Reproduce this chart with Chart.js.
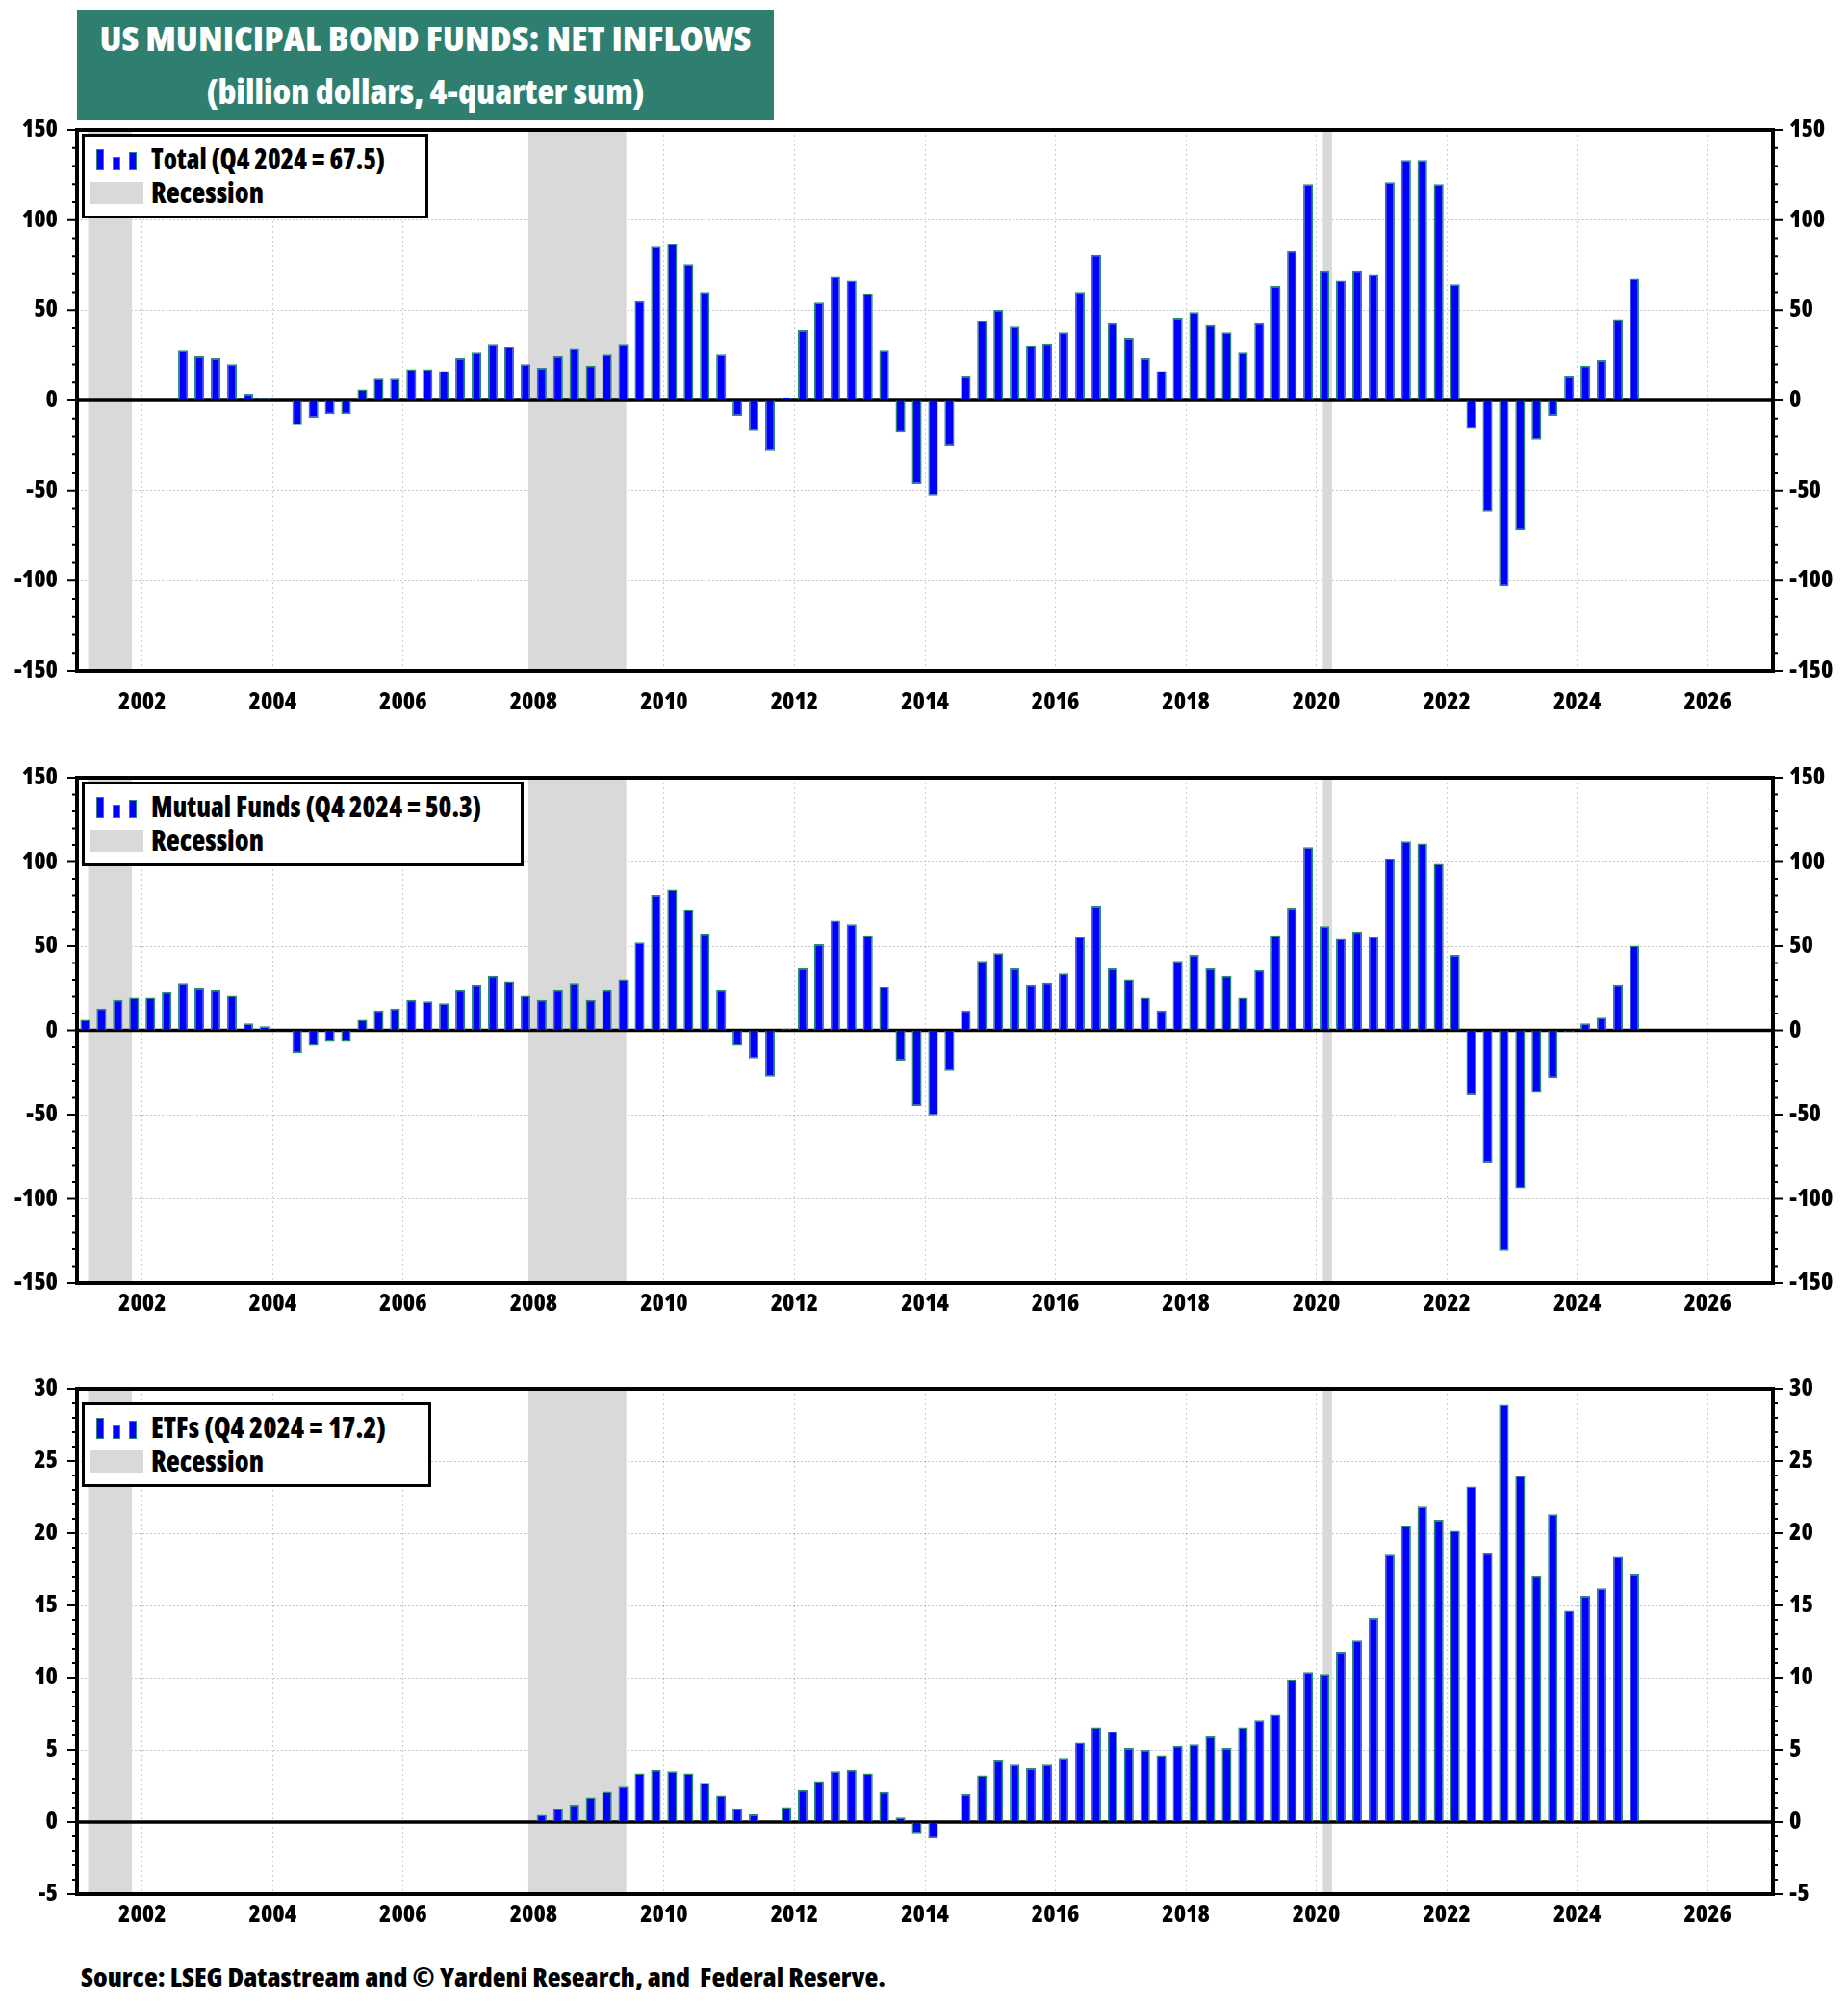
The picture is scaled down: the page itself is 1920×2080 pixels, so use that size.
<!DOCTYPE html>
<html>
<head>
<meta charset="utf-8">
<script src="https://cdn.jsdelivr.net/npm/chart.js@4.4.1/dist/chart.umd.min.js"></script>
<style>
  body { margin: 0; background: #fff; width: 1920px; height: 2080px; position: relative; overflow: hidden;
         font-weight: 800; color: #000; }
  .title { position: absolute; left: 80px; top: 10px; width: 724px; height: 115px; background: #2F7F70; color: #fff;
           text-align: center; font-size: 35px; padding-top: 2px; box-sizing: border-box; }
  .title div { height: 55px; line-height: 55px; white-space: nowrap; }
  .fit { display: inline-block; white-space: pre; transform-origin: left center; }
  .title .fit { transform-origin: center center; }
  canvas { position: absolute; left: 0; }
  .legend { position: absolute; left: 85px; box-sizing: border-box; height: 88px; border: 3px solid #000; background: #fff;
            font-size: 30px; z-index: 2; }
  .legend .fit { position: absolute; left: 69px; line-height: 34px; }
  .legend .t1 { top: 6px; }
  .legend .t2 { top: 41px; }
  .bar { position: absolute; width: 8px; background: #0000FF; border: 1.5px solid #2A8A74; box-sizing: border-box; }
  .swatch { position: absolute; left: 6px; top: 47px; width: 55px; height: 23px; background: #D9D9D9; }
  .source { position: absolute; left: 84px; top: 2038px; font-size: 27px; line-height: 32px; }
</style>
</head>
<body>
<div class="title">
  <div><span class="fit" data-w="677">US MUNICIPAL BOND FUNDS: NET INFLOWS</span></div>
  <div><span class="fit" data-w="455">(billion dollars, 4-quarter sum)</span></div>
</div>

<canvas id="total" width="1920" height="667" style="top:90px"></canvas>
<canvas id="mutual" width="1920" height="630" style="top:763px"></canvas>
<canvas id="etf" width="1920" height="630" style="top:1398px"></canvas>

<div class="legend" style="top:139px;width:360px">
  <div class="bar" style="left:12px;top:13px;height:22px"></div>
  <div class="bar" style="left:29px;top:21px;height:14px"></div>
  <div class="bar" style="left:46px;top:16px;height:19px"></div>
  <span class="fit t1" data-w="243">Total (Q4 2024 = 67.5)</span>
  <div class="swatch"></div>
  <span class="fit t2" data-w="117">Recession</span>
</div>
<div class="legend" style="top:812px;width:459px">
  <div class="bar" style="left:12px;top:13px;height:22px"></div>
  <div class="bar" style="left:29px;top:21px;height:14px"></div>
  <div class="bar" style="left:46px;top:16px;height:19px"></div>
  <span class="fit t1" data-w="343">Mutual Funds (Q4 2024 = 50.3)</span>
  <div class="swatch"></div>
  <span class="fit t2" data-w="117">Recession</span>
</div>
<div class="legend" style="top:1457px;width:363px">
  <div class="bar" style="left:12px;top:13px;height:22px"></div>
  <div class="bar" style="left:29px;top:21px;height:14px"></div>
  <div class="bar" style="left:46px;top:16px;height:19px"></div>
  <span class="fit t1" data-w="244">ETFs (Q4 2024 = 17.2)</span>
  <div class="swatch"></div>
  <span class="fit t2" data-w="117">Recession</span>
</div>

<div class="source"><span class="fit" data-w="836">Source: LSEG Datastream and © Yardeni Research, and  Federal Reserve.</span></div>

<script>
// US municipal bond funds, net inflows, 4-quarter sum (billion dollars)

const yearTicks = [2002, 2004, 2006, 2008, 2010, 2012, 2014, 2016, 2018, 2020, 2022, 2024, 2026];
const recessionStart = [2001.17, 2007.92, 2020.10];
const recessionEnd = [2001.84, 2009.42, 2020.24];

// first quarter of each series (Q1 2001 = 2001.0, Q3 2002 = 2002.5)
const totalFirstQuarter = 2002.5;
const mutualFirstQuarter = 2001.0;
const etfFirstQuarter = 2002.5;

const totalFlows = [
  27.6, 24.5,
  23.5, 20.2, 3.7, 1.0,
  -0.3, -13.7, -9.6, -7.6,
  -7.6, 6.1, 12.2, 12.2,
  17.3, 17.3, 16.3, 23.5,
  26.5, 31.4, 29.6, 20.2,
  18.2, 24.5, 28.6, 19.4,
  25.5, 31.4, 55.1, 85.3,
  86.9, 75.7, 60.2, 25.5,
  -8.6, -16.9, -28.2, 1.8,
  39.0, 54.3, 68.6, 66.5,
  59.4, 27.6, -17.8, -46.5,
  -52.7, -25.1, 13.3, 44.1,
  50.2, 41.0, 30.6, 31.6,
  37.8, 60.2, 80.8, 42.9,
  34.7, 23.5, 16.3, 45.9,
  49.0, 41.8, 37.8, 26.5,
  42.9, 63.5, 82.9, 120.0,
  71.6, 66.5, 71.6, 69.6,
  121.0, 133.3, 133.3, 120.0,
  64.5, -15.7, -61.8, -103.1,
  -72.2, -21.8, -8.6, 13.3,
  19.4, 22.4, 45.1, 67.5
];

const mutualFundFlows = [
  6.3, 13.0, 18.2, 19.5,
  19.5, 22.7, 28.1, 24.9,
  23.8, 20.6, 4.1, 2.4,
  -0.5, -13.6, -9.1, -6.9,
  -6.9, 6.3, 11.9, 13.0,
  18.2, 17.3, 16.2, 23.8,
  27.3, 32.5, 29.2, 20.6,
  18.2, 23.8, 28.1, 18.2,
  23.8, 30.3, 52.2, 80.3,
  83.5, 71.9, 57.6, 23.8,
  -9.1, -16.7, -27.5, 1.0,
  36.8, 51.1, 65.2, 63.0,
  56.5, 26.0, -18.0, -44.8,
  -50.4, -24.2, 11.9, 41.3,
  45.9, 36.8, 27.3, 28.4,
  33.8, 55.4, 74.0, 36.8,
  30.3, 19.5, 11.9, 41.3,
  44.8, 36.8, 32.5, 19.5,
  35.9, 56.5, 72.9, 108.7,
  61.9, 54.3, 58.7, 55.4,
  102.2, 112.1, 110.8, 98.9,
  44.8, -38.5, -78.6, -131.0,
  -93.7, -37.2, -28.4, -1.0,
  4.1, 7.6, 27.3, 50.3
];

const etfFlows = [
  0, 0,
  0, 0, 0, 0,
  0, 0, 0, 0,
  0, 0, 0, 0,
  0, 0, 0, 0,
  0, 0, 0, 0,
  0.5, 0.93, 1.2, 1.7,
  2.1, 2.45, 3.37, 3.62,
  3.51, 3.37, 2.72, 1.83,
  0.93, 0.53, 0.05, 1.04,
  2.22, 2.84, 3.51, 3.62,
  3.37, 2.08, 0.31, -0.79,
  -1.15, 0.05, 1.94, 3.23,
  4.27, 3.99, 3.74, 3.99,
  4.38, 5.5, 6.57, 6.29,
  5.14, 5.0, 4.63, 5.28,
  5.39, 5.93, 5.14, 6.57,
  7.05, 7.44, 9.89, 10.39,
  10.25, 11.8, 12.58, 14.13,
  18.51, 20.53, 21.85, 20.93,
  20.17, 23.23, 18.62, 28.9,
  24.0, 17.08, 21.32, 14.63,
  15.67, 16.18, 18.37, 17.2
];

// pick the narrowest bold face that is actually installed
const fontChoices = [
  ['', "'Liberation Sans Narrow'"],
  ['', "'Arial Narrow'"],
  ['', "'Noto Sans Condensed'"],
  ['condensed ', "'Noto Sans'"],
  ['', "'Roboto Condensed'"],
  ['condensed ', "Roboto"],
  ['', "'Open Sans Condensed'"],
  ['condensed ', "'Open Sans'"],
  ['', "'DejaVu Sans Condensed'"],
  ['', "'Liberation Sans'"]
];

const measureCtx = document.createElement('canvas').getContext('2d');
function textWidth(font, text) {
  measureCtx.font = font;
  return measureCtx.measureText(text).width;
}

let narrow = { stretch: '', fam: "'Liberation Sans'", w: Infinity };
fontChoices.forEach(([stretch, fam]) => {
  const probe = '2002 Recession 150';
  const a = textWidth(`${stretch}bold 100px ${fam}, monospace`, probe);
  const b = textWidth(`${stretch}bold 100px ${fam}, serif`, probe);
  if (Math.abs(a - b) > 0.5) return;
  if (a < narrow.w) narrow = { stretch, fam, w: a };
});

document.body.style.fontFamily = narrow.fam + ', sans-serif';
if (narrow.stretch) document.body.style.fontStretch = narrow.stretch.trim();

// squeeze html text to the reference widths
document.querySelectorAll('.fit').forEach(el => {
  const w = el.getBoundingClientRect().width;
  el.style.transform = `scaleX(${(+el.dataset.w / w).toFixed(4)})`;
});

const fontWeight = narrow.stretch + '800';
const yearW = textWidth(`${fontWeight} 100px ${narrow.fam}`, '2002');
const valueW = textWidth(`${fontWeight} 100px ${narrow.fam}`, '150');
const yearSize = Math.max(22, Math.min(30, Math.round(5000 / yearW)));
const valueSize = Math.max(21, Math.min(28, Math.round(3730 / valueW)));

Chart.defaults.font.family = narrow.fam + ', sans-serif';
Chart.defaults.font.weight = fontWeight;
Chart.defaults.color = '#000';

// recession bands, zero line, minor ticks and the heavy frame
const framePlugin = {
  id: 'frame',
  beforeDatasetsDraw(chart) {
    const {ctx, chartArea: a, scales: {x, y}} = chart;
    ctx.save();
    ctx.fillStyle = '#D9D9D9';
    recessionStart.forEach((s, i) => {
      const x1 = Math.max(x.getPixelForValue(s), a.left);
      const x2 = Math.min(x.getPixelForValue(recessionEnd[i]), a.right);
      ctx.fillRect(x1, a.top, x2 - x1, a.bottom - a.top);
    });
    const y0 = y.getPixelForValue(0);
    ctx.strokeStyle = '#000';
    ctx.lineWidth = 3.5;
    ctx.beginPath();
    ctx.moveTo(a.left, y0);
    ctx.lineTo(a.right, y0);
    ctx.stroke();
    ctx.restore();
  },
  afterDraw(chart, args, opts) {
    const {ctx, chartArea: a, scales: {y}} = chart;
    ctx.save();
    ctx.strokeStyle = '#000';
    ctx.lineWidth = 2;
    const n = Math.round((y.max - y.min) / opts.minor);
    for (let i = 0; i <= n; i++) {
      const v = y.min + i * opts.minor;
      const py = y.getPixelForValue(v);
      const len = Math.abs(v % opts.major) < 1e-6 ? 10 : 5;
      ctx.beginPath();
      ctx.moveTo(a.left - len, py); ctx.lineTo(a.left, py);
      ctx.moveTo(a.right, py); ctx.lineTo(a.right + len, py);
      ctx.stroke();
    }
    ctx.lineWidth = 4;
    ctx.strokeRect(a.left, a.top, a.right - a.left, a.bottom - a.top);
    ctx.restore();
  }
};

function quarterPoints(first, values) {
  return values.map((v, i) => ({ x: first + i * 0.25 + 0.125, y: v }));
}

function makePanel(id, first, values, yMin, yMax, major, minor, xPad) {
  const yAxis = (pos) => ({
    position: pos,
    min: yMin,
    max: yMax,
    afterBuildTicks: axis => {
      const t = [];
      for (let v = yMin; v <= yMax; v += major) t.push({ value: v });
      axis.ticks = t;
    },
    afterFit: scale => { scale.width = pos === 'left' ? 80 : 78; },
    ticks: { font: { size: valueSize }, padding: pos === 'left' ? 20 : 17 },
    grid: { drawOnChartArea: pos === 'left', drawTicks: false, color: 'rgba(0,0,0,0.22)', lineWidth: 1 },
    border: { display: false, dash: [2, 2] }
  });

  new Chart(document.getElementById(id), {
    type: 'bar',
    data: {
      datasets: [{
        data: quarterPoints(first, values),
        backgroundColor: '#0000FF',
        borderColor: '#2A8A74',
        borderWidth: 1.5,
        barPercentage: 0.6,
        categoryPercentage: 1.0
      }]
    },
    options: {
      responsive: false,
      animation: false,
      layout: { padding: { top: 45, left: 0, right: 0, bottom: 0 } },
      plugins: {
        legend: { display: false },
        tooltip: { enabled: false },
        frame: { major: major, minor: minor }
      },
      scales: {
        x: {
          type: 'linear',
          min: 2001,
          max: 2027,
          offset: false,
          afterBuildTicks: axis => { axis.ticks = yearTicks.map(v => ({ value: v })); },
          afterFit: scale => { scale.height = 60; },
          ticks: { autoSkip: false, maxRotation: 0, font: { size: yearSize }, padding: xPad, callback: v => String(v) },
          grid: { offset: false, drawTicks: false, color: 'rgba(0,0,0,0.2)', lineWidth: 1 },
          border: { display: false, dash: [2, 3] }
        },
        y: yAxis('left'),
        y2: yAxis('right')
      }
    },
    plugins: [framePlugin]
  });
}

makePanel('total', totalFirstQuarter, totalFlows, -150, 150, 50, 10, 18);
makePanel('mutual', mutualFirstQuarter, mutualFundFlows, -150, 150, 50, 10, 7);
makePanel('etf', etfFirstQuarter, etfFlows, -5, 30, 5, 1, 7);
</script>
</body>
</html>
